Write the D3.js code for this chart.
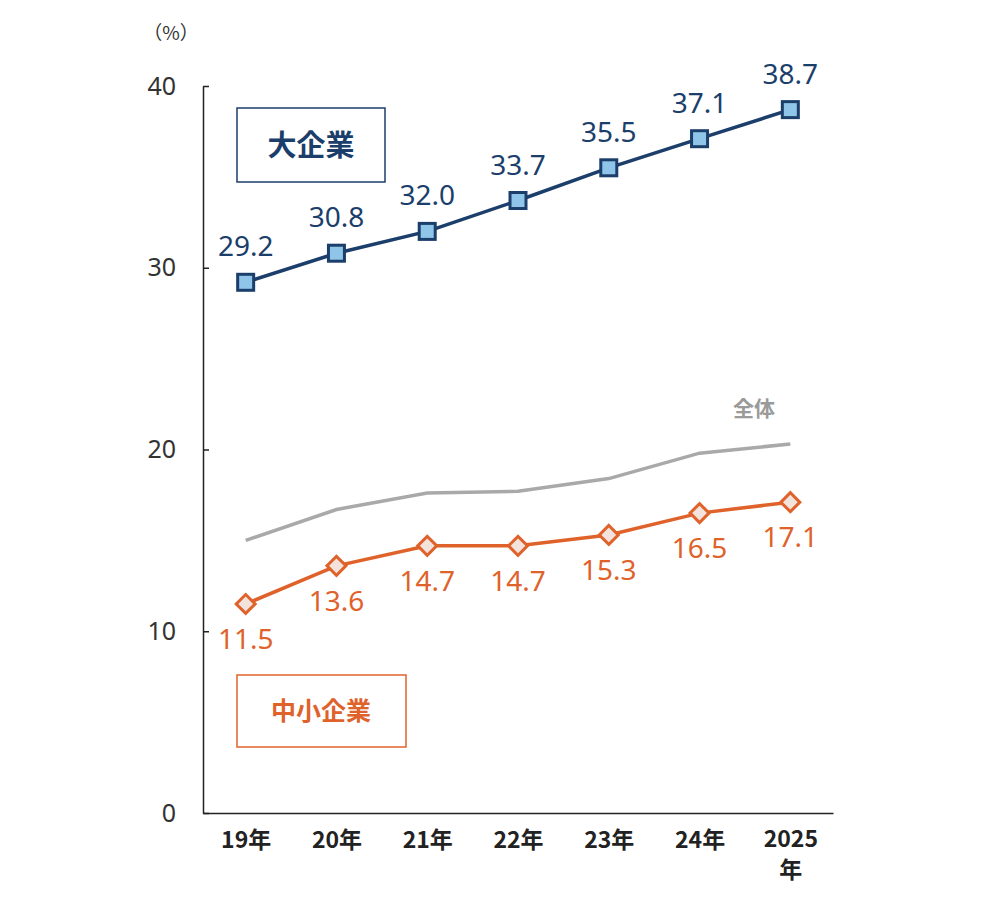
<!DOCTYPE html>
<html>
<head>
<meta charset="utf-8">
<script src="https://cdn.jsdelivr.net/npm/d3@7"></script>
<style>
  body { margin: 0; background: #fff; }
  svg text { font-family: "Noto Sans CJK JP", "Noto Sans", sans-serif; }
</style>
</head>
<body>
<div id="chart"></div>
<script>
(function() {
    'use strict';

    // years on the x axis
    const years = ["19年", "20年", "21年", "22年", "23年", "24年", "2025"];
    // share (%) by company size
    const largeCo = [29.2, 30.8, 32.0, 33.7, 35.5, 37.1, 38.7];
    const smallCo = [11.5, 13.6, 14.7, 14.7, 15.3, 16.5, 17.1];
    const overall = [15.0, 16.7, 17.6, 17.7, 18.4, 19.8, 20.3];
    const yTicks = [0, 10, 20, 30, 40];

    const width = 1000;
    const height = 897;
    const navy = "#1b3e6b";
    const orange = "#e0622b";
    const grey = "#a9a9a9";

    const svg = d3.select("#chart")
        .append("svg")
        .attr("width", width)
        .attr("height", height);

    // scales
    const x = d3.scalePoint()
        .domain(years)
        .range([203, 833])
        .padding(0.47);

    const y = d3.scaleLinear()
        .domain([0, 40])
        .range([813, 86]);

    // y axis
    const yAxis = svg.append("g")
        .attr("transform", "translate(203,0)")
        .call(d3.axisLeft(y).tickValues(yTicks).tickSize(-6).tickPadding(27).tickSizeOuter(0));
    yAxis.select(".domain").attr("stroke", "#222").attr("stroke-width", 1.5);
    yAxis.selectAll(".tick line").attr("stroke", "#222").attr("stroke-width", 1.5);
    yAxis.selectAll(".tick text")
        .attr("fill", "#333")
        .style("font-size", "25px")
        .style("font-family", "'Noto Sans', sans-serif");

    // x axis line
    const xAxis = svg.append("g")
        .attr("transform", "translate(0,813)")
        .call(d3.axisBottom(x).tickSize(0).tickPadding(14).tickFormat(""));
    xAxis.select(".domain").attr("stroke", "#222").attr("stroke-width", 1.5);

    // x labels (2025 gets 年 on a second line)
    xAxis.selectAll(".tick").each(function(d) {
        const t = d3.select(this).append("text")
            .attr("text-anchor", "middle")
            .attr("fill", "#222")
            .style("font-size", "23px")
            .style("font-weight", "bold");
        if (d === "2025") {
            t.append("tspan").attr("x", 0).attr("y", 34).text("2025");
            t.append("tspan").attr("x", 0).attr("y", 65).text("年");
        } else {
            t.attr("y", 35).text(d);
        }
    });

    // unit
    svg.append("text")
        .attr("x", 171)
        .attr("y", 40)
        .attr("text-anchor", "middle")
        .attr("fill", "#333")
        .style("font-size", "19px")
        .text("（%）");

    const line = d3.line()
        .x((d, i) => x(years[i]))
        .y(d => y(d));

    // overall (grey, no markers)
    svg.append("path")
        .datum(overall)
        .attr("d", line)
        .attr("fill", "none")
        .attr("stroke", grey)
        .attr("stroke-width", 3.5);

    svg.append("text")
        .attr("x", 754)
        .attr("y", 416)
        .attr("text-anchor", "middle")
        .attr("fill", "#9a9a9a")
        .style("font-size", "21px")
        .style("font-weight", "bold")
        .text("全体");

    // large companies
    svg.append("path")
        .datum(largeCo)
        .attr("d", line)
        .attr("fill", "none")
        .attr("stroke", navy)
        .attr("stroke-width", 3.5);

    svg.selectAll("rect.large")
        .data(largeCo)
        .enter()
        .append("rect")
        .attr("class", "large")
        .attr("x", (d, i) => x(years[i]) - 8)
        .attr("y", d => y(d) - 8)
        .attr("width", 16)
        .attr("height", 16)
        .attr("fill", "#8fc5e8")
        .attr("stroke", navy)
        .attr("stroke-width", 3);

    svg.selectAll("text.large")
        .data(largeCo)
        .enter()
        .append("text")
        .attr("class", "large")
        .attr("x", (d, i) => x(years[i]))
        .attr("y", d => y(d) - 26)
        .attr("text-anchor", "middle")
        .attr("fill", navy)
        .style("font-size", "28px")
        .style("font-family", "'Noto Sans', sans-serif")
        .text(d => d.toFixed(1));

    // small and medium companies
    svg.append("path")
        .datum(smallCo)
        .attr("d", line)
        .attr("fill", "none")
        .attr("stroke", orange)
        .attr("stroke-width", 3.5);

    const diamond = d3.symbol().type(d3.symbolSquare).size(180);
    svg.selectAll("path.small")
        .data(smallCo)
        .enter()
        .append("path")
        .attr("class", "small")
        .attr("d", diamond)
        .attr("transform", (d, i) => "translate(" + x(years[i]) + "," + y(d) + ") rotate(45)")
        .attr("fill", "#f3e3dc")
        .attr("stroke", orange)
        .attr("stroke-width", 3);

    svg.selectAll("text.small")
        .data(smallCo)
        .enter()
        .append("text")
        .attr("class", "small")
        .attr("x", (d, i) => x(years[i]))
        .attr("y", d => y(d) + 45)
        .attr("text-anchor", "middle")
        .attr("fill", orange)
        .style("font-size", "28px")
        .style("font-family", "'Noto Sans', sans-serif")
        .text(d => d.toFixed(1));

    // series name boxes
    svg.append("rect")
        .attr("x", 237).attr("y", 108)
        .attr("width", 148).attr("height", 74)
        .attr("fill", "none")
        .attr("stroke", navy)
        .attr("stroke-width", 1.5);
    svg.append("text")
        .attr("x", 311).attr("y", 156)
        .attr("text-anchor", "middle")
        .attr("fill", navy)
        .style("font-size", "29px")
        .style("font-weight", "bold")
        .text("大企業");

    svg.append("rect")
        .attr("x", 237).attr("y", 675)
        .attr("width", 169).attr("height", 72)
        .attr("fill", "none")
        .attr("stroke", orange)
        .attr("stroke-width", 1.5);
    svg.append("text")
        .attr("x", 321).attr("y", 720)
        .attr("text-anchor", "middle")
        .attr("fill", orange)
        .style("font-size", "25px")
        .style("font-weight", "bold")
        .text("中小企業");

})();
</script>
</body>
</html>
